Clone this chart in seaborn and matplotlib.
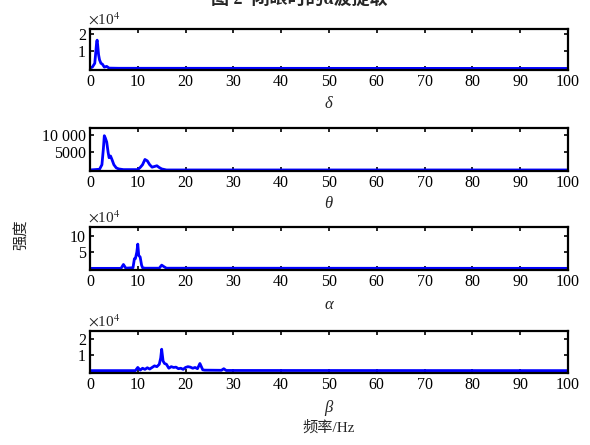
import matplotlib
matplotlib.use("Agg")
import matplotlib.pyplot as plt
import seaborn as sns

# spectrum samples (Hz, intensity)
delta_hz = [0, 0.5, 1.0, 1.2, 1.4, 1.5, 1.6, 1.8, 2.0, 2.3, 2.6, 3.0, 3.5, 4.0, 6.0, 100]
delta_amp = [300, 800, 3000, 9000, 15500, 16500, 14000, 8000, 5000, 3000, 2500, 800, 1200, 200, 100, 0]

theta_hz = [0, 2.0, 2.5, 2.8, 3.0, 3.2, 3.5, 3.8, 4.0, 4.3, 4.6, 5.0, 5.5, 6.0, 7.0,
            10.0, 10.5, 11.0, 11.5, 12.0, 12.5, 13.0, 13.5, 14.0, 14.5, 15.0, 16.0, 100]
theta_amp = [0, 200, 1500, 6000, 9800, 9200, 8000, 5000, 3500, 4000, 3000, 1500, 600, 300, 100,
             100, 700, 1500, 3000, 2600, 1500, 800, 1000, 1200, 700, 300, 0, 0]

alpha_hz = [0, 6.5, 7.0, 7.5, 8.0, 8.5, 9.0, 9.3, 9.5, 9.8, 10.0, 10.2, 10.5, 10.8, 11.0,
            11.5, 14.5, 15.0, 15.5, 16.0, 100]
alpha_amp = [0, 0, 12000, 500, 1000, 1500, 2000, 30000, 30000, 50000, 75000, 40000, 35000,
             10000, 2000, 500, 500, 10000, 5000, 500, 0]

beta_hz = [0, 9.5, 10.0, 10.5, 11.0, 11.5, 12.0, 12.5, 13.0, 13.5, 14.0, 14.5, 14.8, 15.0,
           15.3, 15.6, 16.0, 16.5, 17.0, 17.5, 18.0, 18.5, 19.0, 19.5, 20.0, 20.5, 21.0,
           21.5, 22.0, 22.5, 23.0, 23.3, 23.6, 24.0, 27.5, 28.0, 28.5, 100]
beta_amp = [0, 0, 2000, 300, 1500, 800, 1800, 1000, 2000, 3000, 2500, 4000, 8000, 13500,
            6000, 4500, 4000, 1500, 2500, 2000, 2200, 1200, 1500, 800, 2000, 2500, 2200,
            1500, 2000, 1200, 4500, 2500, 500, 300, 200, 1200, 100, 0]

band_labels = ["δ", "θ", "α", "β"]
xticks = [0, 10, 20, 30, 40, 50, 60, 70, 80, 90, 100]

sns.set_theme(style="white")
plt.rcParams["font.family"] = ["Liberation Serif", "Noto Sans CJK SC"]
plt.rcParams["mathtext.fontset"] = "stix"

fig = plt.figure(figsize=(5.9, 4.45), dpi=100)
fig.patch.set_facecolor("white")

# axes boxes (left, bottom, width, height) in figure fractions
boxes = [
    (0.1525, 0.8427, 0.810, 0.0921),
    (0.1525, 0.6157, 0.810, 0.0966),
    (0.1525, 0.3933, 0.810, 0.0966),
    (0.1525, 0.1618, 0.810, 0.0944),
]
series = [(delta_hz, delta_amp), (theta_hz, theta_amp), (alpha_hz, alpha_amp), (beta_hz, beta_amp)]
ylims = [(-900, 23000), (-300, 12000), (-5000, 128000), (-1500, 25000)]
yticks = [[10000, 20000], [5000, 10000], [50000, 100000], [10000, 20000]]
ytlabels = [["1", "2"], ["5000", "10 000"], ["5", "10"], ["1", "2"]]
offsets = [True, False, True, True]
label_y = [104, 204, 305, 408]

for i, (box, (hz, amp)) in enumerate(zip(boxes, series)):
    ax = fig.add_axes(box)
    sns.lineplot(x=hz, y=amp, ax=ax, color="#0000ff", linewidth=2.0, estimator=None, sort=False)
    ax.set_xlim(0, 100)
    ax.set_ylim(*ylims[i])
    ax.set_xticks(xticks)
    ax.set_xticklabels([str(t) for t in xticks], fontsize=11.5)
    ax.set_yticks(yticks[i])
    ax.set_yticklabels(ytlabels[i], fontsize=11.5)
    ax.tick_params(direction="in", length=3, width=1.2, top=True, right=True,
                   bottom=True, left=True, colors="black", pad=3)
    for s in ax.spines.values():
        s.set_color("black")
        s.set_linewidth(1.6)
    ax.set_xlabel("")
    ax.set_ylabel("")
    if offsets[i]:
        ax.text(-0.005, 1.04, r"$\times$10$^4$", transform=ax.transAxes,
                fontsize=11, ha="left", va="bottom")
    fig.text(0.557, 1 - label_y[i] / 445, band_labels[i], fontsize=12,
             fontstyle="italic", ha="center", va="center")

fig.text(0.557, 1 - 428 / 445, "频率/Hz", fontsize=11, ha="center", va="center")
fig.text(0.035, 1 - 235 / 445, "强度", fontsize=11, rotation=90, ha="center", va="center")
fig.text(0.508, 1.0, "图 2  闭眼时的α波提取", fontsize=13, fontweight="bold",
         ha="center", va="center")

fig.savefig("out.png", dpi=100, facecolor="white")
